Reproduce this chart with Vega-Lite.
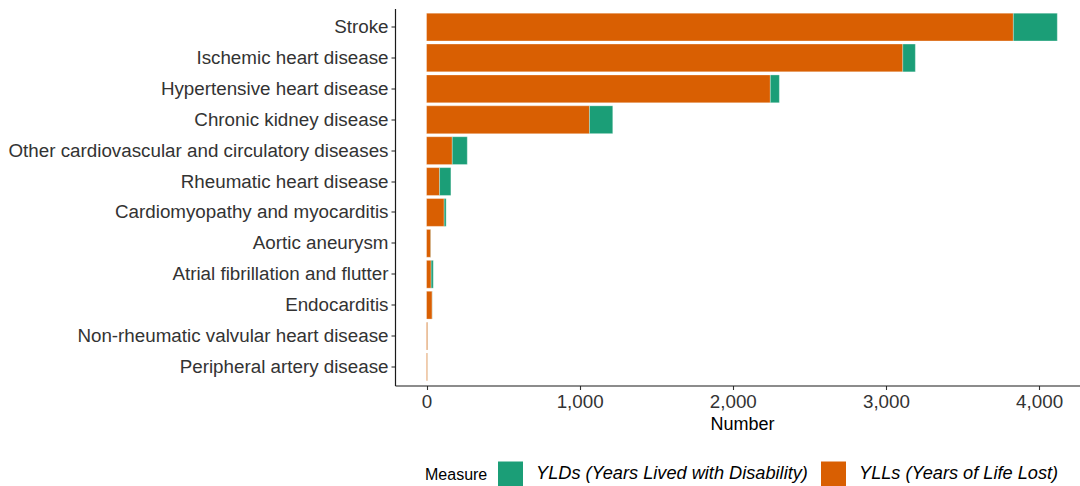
{
  "$schema": "https://vega.github.io/schema/vega-lite/v6.json",
  "autosize": {"type": "none"},
  "padding": {"left": 395, "top": 8.5, "right": 0, "bottom": 100},
  "width": 694,
  "height": 377,
  "background": "white",
  "config": {
    "view": {"stroke": null},
    "font": "Liberation Sans",
    "axis": {
      "grid": false,
      "domainColor": "#1a1a1a",
      "domainWidth": 1.2,
      "tickColor": "#333333",
      "tickWidth": 1.1,
      "tickSize": 4,
      "labelColor": "#333333",
      "labelFontSize": 18.8,
      "labelPadding": 3,
      "titleColor": "#000000",
      "titleFontSize": 18,
      "titleFontWeight": "normal"
    }
  },
  "data": {
    "values": [
      {"cause": "Stroke", "Measure": "YLLs (Years of Life Lost)", "value": 3832},
      {"cause": "Stroke", "Measure": "YLDs (Years Lived with Disability)", "value": 287},
      {"cause": "Ischemic heart disease", "Measure": "YLLs (Years of Life Lost)", "value": 3110},
      {"cause": "Ischemic heart disease", "Measure": "YLDs (Years Lived with Disability)", "value": 82},
      {"cause": "Hypertensive heart disease", "Measure": "YLLs (Years of Life Lost)", "value": 2245},
      {"cause": "Hypertensive heart disease", "Measure": "YLDs (Years Lived with Disability)", "value": 59},
      {"cause": "Chronic kidney disease", "Measure": "YLLs (Years of Life Lost)", "value": 1064},
      {"cause": "Chronic kidney disease", "Measure": "YLDs (Years Lived with Disability)", "value": 152},
      {"cause": "Other cardiovascular and circulatory diseases", "Measure": "YLLs (Years of Life Lost)", "value": 168},
      {"cause": "Other cardiovascular and circulatory diseases", "Measure": "YLDs (Years Lived with Disability)", "value": 98},
      {"cause": "Rheumatic heart disease", "Measure": "YLLs (Years of Life Lost)", "value": 85},
      {"cause": "Rheumatic heart disease", "Measure": "YLDs (Years Lived with Disability)", "value": 74},
      {"cause": "Cardiomyopathy and myocarditis", "Measure": "YLLs (Years of Life Lost)", "value": 115},
      {"cause": "Cardiomyopathy and myocarditis", "Measure": "YLDs (Years Lived with Disability)", "value": 13},
      {"cause": "Aortic aneurysm", "Measure": "YLLs (Years of Life Lost)", "value": 28},
      {"cause": "Aortic aneurysm", "Measure": "YLDs (Years Lived with Disability)", "value": 1},
      {"cause": "Atrial fibrillation and flutter", "Measure": "YLLs (Years of Life Lost)", "value": 30},
      {"cause": "Atrial fibrillation and flutter", "Measure": "YLDs (Years Lived with Disability)", "value": 14},
      {"cause": "Endocarditis", "Measure": "YLLs (Years of Life Lost)", "value": 37},
      {"cause": "Endocarditis", "Measure": "YLDs (Years Lived with Disability)", "value": 1},
      {"cause": "Non-rheumatic valvular heart disease", "Measure": "YLLs (Years of Life Lost)", "value": 8},
      {"cause": "Non-rheumatic valvular heart disease", "Measure": "YLDs (Years Lived with Disability)", "value": 0.5},
      {"cause": "Peripheral artery disease", "Measure": "YLLs (Years of Life Lost)", "value": 7},
      {"cause": "Peripheral artery disease", "Measure": "YLDs (Years Lived with Disability)", "value": 0.5}
    ]
  },
  "mark": {"type": "bar", "stroke": "white", "strokeWidth": 0.3},
  "encoding": {
    "y": {
      "field": "cause",
      "type": "nominal",
      "sort": ["Stroke", "Ischemic heart disease", "Hypertensive heart disease", "Chronic kidney disease", "Other cardiovascular and circulatory diseases", "Rheumatic heart disease", "Cardiomyopathy and myocarditis", "Aortic aneurysm", "Atrial fibrillation and flutter", "Endocarditis", "Non-rheumatic valvular heart disease", "Peripheral artery disease"],
      "scale": {"paddingInner": 0.1, "paddingOuter": 0.15},
      "axis": {"title": null, "labelLimit": 500}
    },
    "x": {
      "field": "value",
      "type": "quantitative",
      "stack": "zero",
      "scale": {"domain": [-206, 4326], "nice": false, "zero": false},
      "axis": {"title": "Number", "values": [0, 1000, 2000, 3000, 4000], "format": ",d", "titlePadding": 4}
    },
    "color": {
      "field": "Measure",
      "type": "nominal",
      "scale": {"domain": ["YLDs (Years Lived with Disability)", "YLLs (Years of Life Lost)"], "range": ["#1b9e77", "#d95f02"]},
      "legend": {
        "orient": "none",
        "legendX": 30,
        "legendY": 453,
        "direction": "horizontal",
        "titleOrient": "left",
        "title": "Measure",
        "titleFontSize": 16,
        "titleFontWeight": "normal",
        "titleColor": "#000000",
        "titlePadding": 10,
        "titleBaseline": "middle",
        "symbolType": "square",
        "symbolSize": 625,
        "symbolStrokeWidth": 0,
        "symbolOpacity": 1,
        "labelFontSize": 18.2,
        "labelFontStyle": "italic",
        "labelColor": "#000000",
        "labelOffset": 13,
        "labelLimit": 500,
        "columnPadding": 13
      }
    },
    "order": {"field": "Measure", "sort": "descending"}
  }
}
